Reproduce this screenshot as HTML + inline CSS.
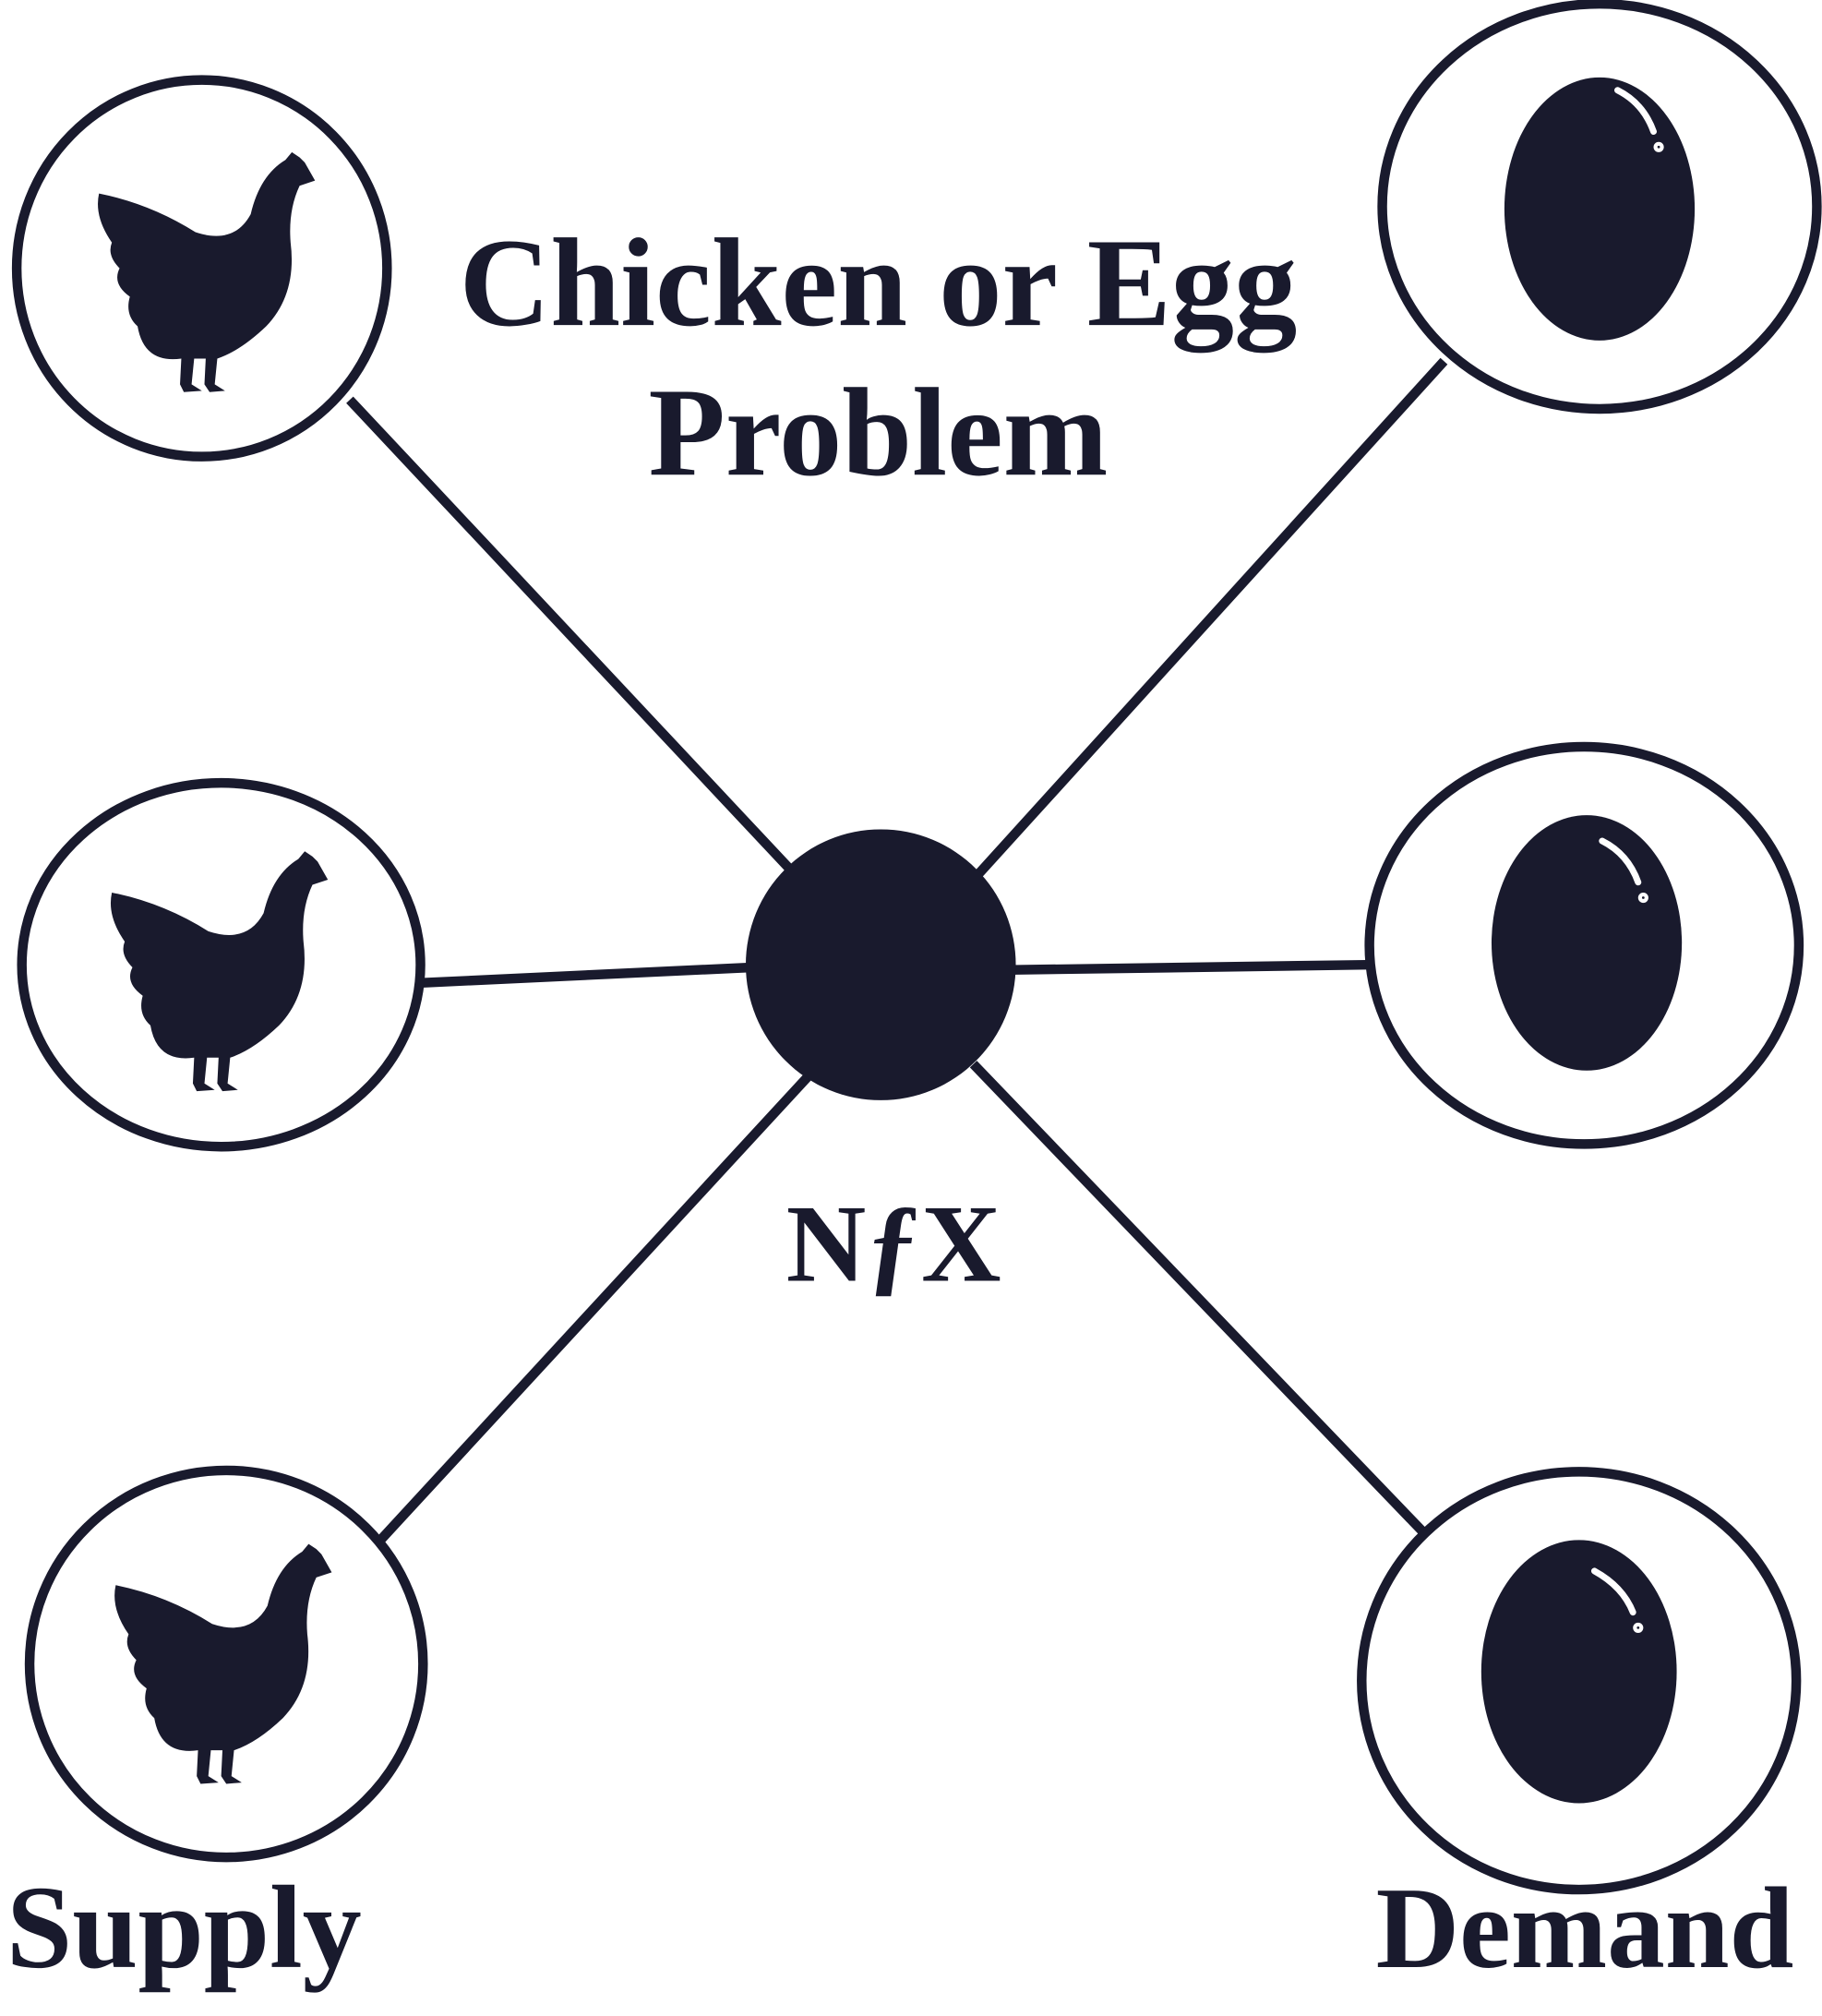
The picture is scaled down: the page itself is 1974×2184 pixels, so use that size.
<!DOCTYPE html>
<html><head><meta charset="utf-8"><style>
html,body{margin:0;padding:0;background:#fff;}
svg{display:block;}
text{font-family:"Liberation Serif",serif;font-weight:bold;fill:#191a2d;}
</style></head><body>
<svg width="1974" height="2184" viewBox="0 0 1417 1563" preserveAspectRatio="none">
<defs>
<path id="chicken" d="M -80,-58 Q -40,-50 -5,-28 Q 25,-18 38,-42 Q 45,-72 65,-84 L 70,-90 L 76,-86 L 80,-82 L 88,-68 L 76,-64 Q 67,-45 69,-20 Q 74,20 50,45 Q 30,64 12,70 L 10,90 L 18,95 L 6,96 L 2,90 L 3,70 L -6,70 L -8,90 L 0,95 L -14,96 L -17,90 L -16,70 Q -45,74 -50,45 Q -60,36 -56,22 Q -70,12 -64,0 Q -74,-10 -70,-20 Q -84,-40 -80,-58 Z" fill="#191a2d"/>
</defs>
<g stroke="#191a2d" stroke-width="7.5" fill="none">
<line x1="272" y1="310" x2="622" y2="682"/>
<line x1="328" y1="762" x2="585" y2="750"/>
<line x1="295" y1="1195" x2="628" y2="835"/>
<line x1="757" y1="682" x2="1123" y2="280"/>
<line x1="785" y1="752" x2="1063" y2="748"/>
<line x1="757" y1="825" x2="1107" y2="1188"/>
<ellipse cx="157" cy="208" rx="144" ry="146"/>
<ellipse cx="172" cy="748" rx="155" ry="141"/>
<ellipse cx="176" cy="1290" rx="153" ry="150"/>
<ellipse cx="1244" cy="160" rx="169" ry="157"/>
<ellipse cx="1232" cy="733" rx="167" ry="154"/>
<ellipse cx="1228" cy="1303" rx="169" ry="162"/>
</g>
<circle cx="685" cy="748" r="105" fill="#191a2d"/>
<use href="#chicken" x="157" y="208"/>
<use href="#chicken" x="167" y="750"/>
<use href="#chicken" x="170" y="1287"/>
<g fill="#191a2d">
<ellipse cx="1244" cy="162" rx="74" ry="102"/>
<ellipse cx="1234" cy="731" rx="74" ry="99"/>
<ellipse cx="1228" cy="1296" rx="76" ry="102"/>
</g>
<g stroke="#fff" stroke-width="5" fill="none" stroke-linecap="round">
<path d="M 1258,70 Q 1278,80 1286,102"/><circle cx="1290" cy="114" r="1.5"/>
<path d="M 1246,652 Q 1266,662 1274,684"/><circle cx="1278" cy="696" r="1.5"/>
<path d="M 1240,1218 Q 1262,1230 1270,1250"/><circle cx="1274" cy="1262" r="1.5"/>
</g>
<text x="683" y="252" font-size="98" text-anchor="middle">Chicken or Egg</text>
<text x="683" y="368" font-size="98" text-anchor="middle">Problem</text>
<text x="695" y="993" font-size="86" text-anchor="middle">NƒX</text>
<text x="5" y="1525" font-size="92">Supply</text>
<text x="1070" y="1525" font-size="90">Demand</text>
</svg>
</body></html>
